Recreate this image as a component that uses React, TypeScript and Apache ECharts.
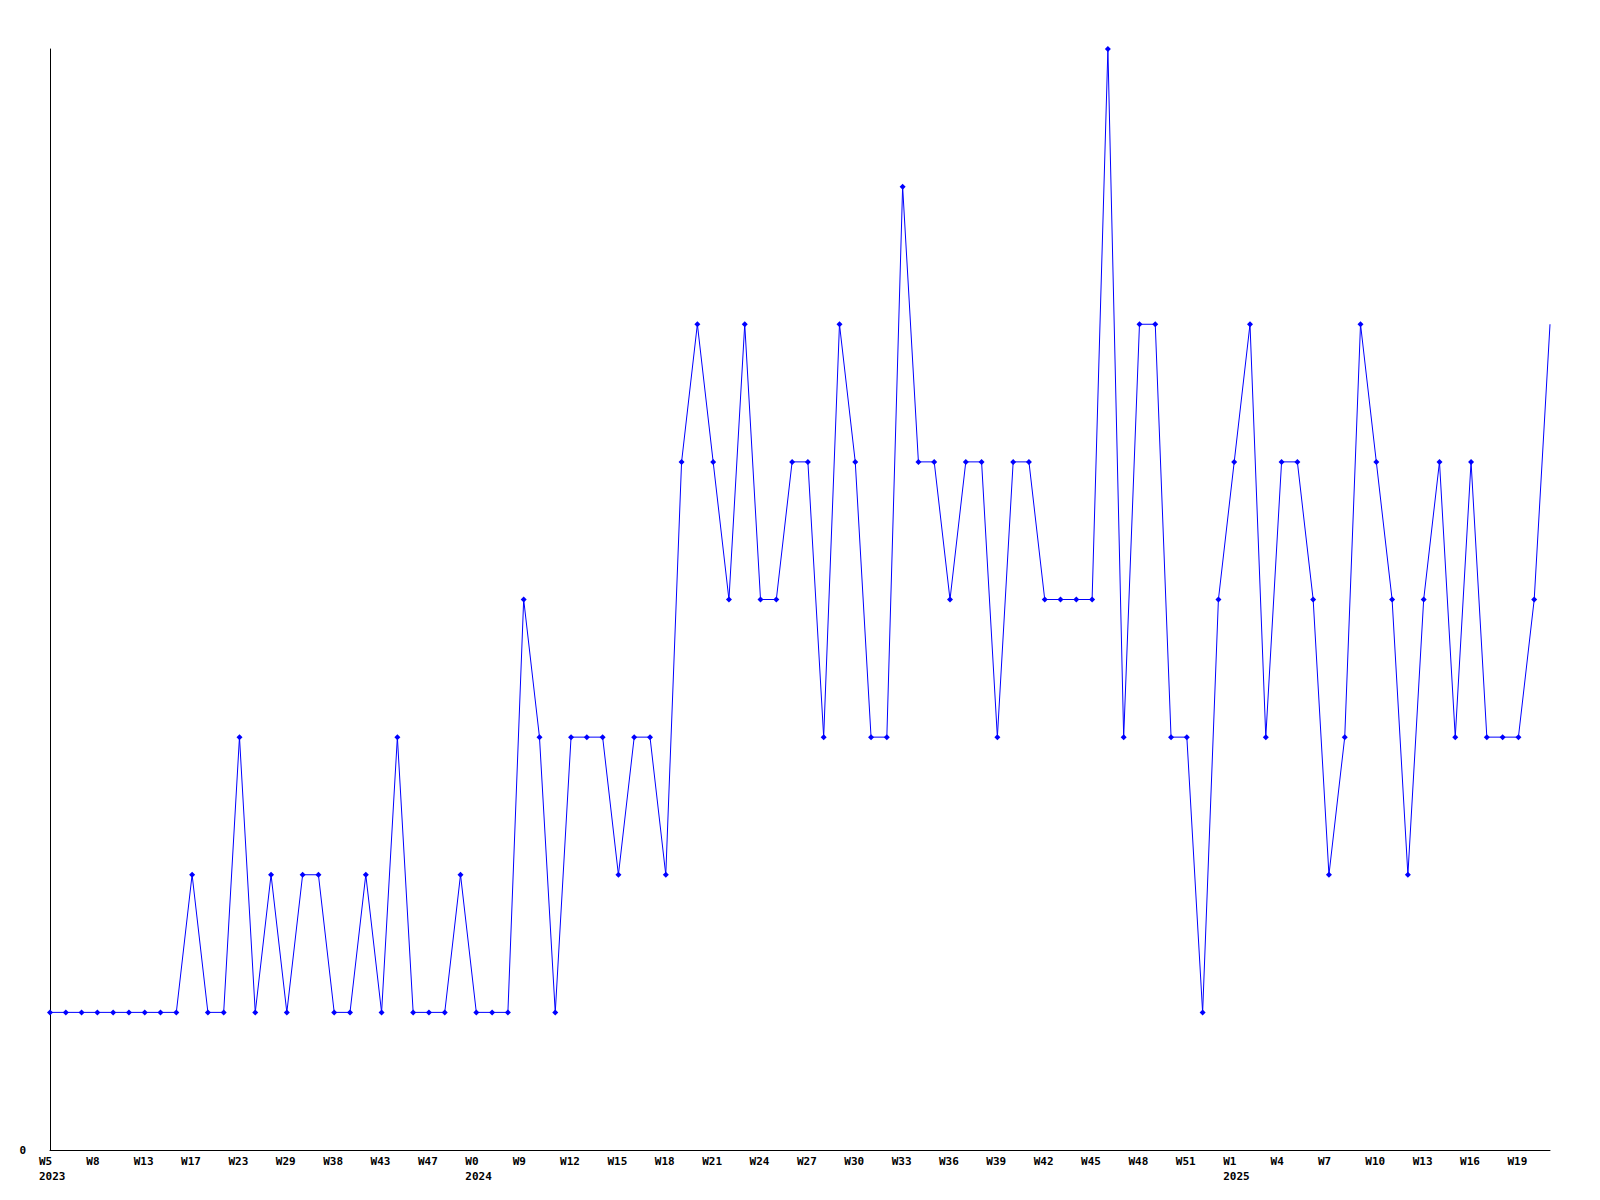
import React, { useEffect, useRef } from "react";
import * as echarts from "echarts";

const weeks: string[] = [
  "W5", "W6", "W7", "W8", "W10", "W11", "W13", "W14", "W16", "W17",
  "W19", "W21", "W23", "W25", "W27", "W29", "W31", "W35", "W38", "W40",
  "W41", "W43", "W45", "W46", "W47", "W49", "W51", "W0", "W3", "W6",
  "W9", "W10", "W11", "W12", "W13", "W14", "W15", "W16", "W17", "W18",
  "W19", "W20", "W21", "W22", "W23", "W24", "W25", "W26", "W27", "W28",
  "W29", "W30", "W31", "W32", "W33", "W34", "W35", "W36", "W37", "W38",
  "W39", "W40", "W41", "W42", "W43", "W44", "W45", "W46", "W47", "W48",
  "W49", "W50", "W51", "W52", "W0", "W1", "W2", "W3", "W4", "W5",
  "W6", "W7", "W8", "W9", "W10", "W11", "W12", "W13", "W14", "W15",
  "W16", "W17", "W18", "W19", "W20", "W21",
];

const yearMarks: Record<number, string> = { 0: "2023", 27: "2024", 75: "2025" };

const values: number[] = [
  1, 1, 1, 1, 1, 1, 1, 1, 1, 2,
  1, 1, 3, 1, 2, 1, 2, 2, 1, 1,
  2, 1, 3, 1, 1, 1, 2, 1, 1, 1,
  4, 3, 1, 3, 3, 3, 2, 3, 3, 2,
  5, 6, 5, 4, 6, 4, 4, 5, 5, 3,
  6, 5, 3, 3, 7, 5, 5, 4, 5, 5,
  3, 5, 5, 4, 4, 4, 4, 8, 3, 6,
  6, 3, 3, 1, 4, 5, 6, 3, 5, 5,
  4, 2, 3, 6, 5, 4, 2, 4, 5, 3,
  5, 3, 3, 3, 4, 6,
];

const yTicks: number[] = [0, 8];

export default function App() {
  const ref = useRef<HTMLDivElement>(null);
  useEffect(() => {
    if (!ref.current) return;
    const chart = echarts.init(ref.current, null, { renderer: "svg" });
    const font = "DejaVu Sans Mono";
    const seriesData = values.map((v, i) =>
      i === values.length - 1 ? { value: v, symbol: "none" } : v
    );
    chart.setOption({
      animation: false,
      backgroundColor: "#ffffff",
      grid: [
        { left: 50, right: 50, top: 49, bottom: 50, containLabel: false },
        { left: 39, right: 61, top: 49, bottom: 50, containLabel: false },
      ],
      xAxis: [
        {
          type: "category",
          gridIndex: 0,
          data: weeks,
          boundaryGap: false,
          axisLine: { show: true, lineStyle: { color: "#000", width: 1 } },
          axisTick: { show: false },
          axisLabel: { show: false },
          splitLine: { show: false },
        },
        {
          type: "category",
          gridIndex: 1,
          data: weeks,
          boundaryGap: false,
          axisLine: { show: false },
          axisTick: { show: false },
          splitLine: { show: false },
          axisLabel: {
            show: true,
            interval: 2,
            align: "left",
            margin: 4,
            color: "#000",
            fontFamily: font,
            fontWeight: "bold",
            fontSize: 11,
            lineHeight: 15,
            formatter: (val: string, idx: number) =>
              yearMarks[idx] ? `${val}\n${yearMarks[idx]}` : val,
          },
        },
      ],
      yAxis: [
        {
          type: "value",
          gridIndex: 0,
          min: yTicks[0],
          max: yTicks[1],
          interval: yTicks[1] - yTicks[0],
          axisLine: { show: true, lineStyle: { color: "#000", width: 1 } },
          axisTick: { show: false },
          splitLine: { show: false },
          axisLabel: {
            show: true,
            margin: 24,
            color: "#000",
            fontFamily: font,
            fontWeight: "bold",
            fontSize: 11,
            formatter: (v: number) => (v === 0 ? "0" : ""),
          },
        },
        {
          type: "value",
          gridIndex: 1,
          min: 0,
          max: 8,
          show: false,
        },
      ],
      series: [
        {
          type: "line",
          xAxisIndex: 0,
          yAxisIndex: 0,
          data: seriesData,
          symbol: "diamond",
          symbolSize: 6,
          showSymbol: true,
          showAllSymbol: true,
          lineStyle: { color: "#0000ff", width: 1 },
          itemStyle: { color: "#0000ff" },
          clip: false,
        },
      ],
    });
    return () => chart.dispose();
  }, []);
  return (
    <div
      ref={ref}
      style={{ width: 1600, height: 1200, position: "absolute", left: 0, top: 0 }}
    />
  );
}
